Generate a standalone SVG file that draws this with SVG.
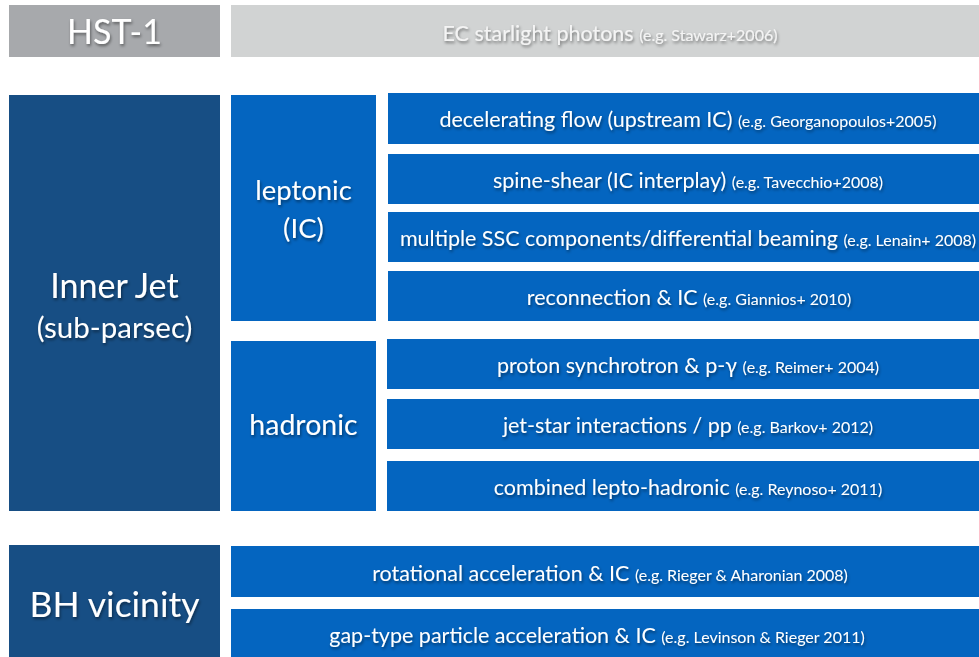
<svg xmlns="http://www.w3.org/2000/svg" width="979" height="657" viewBox="0 0 979 657">
<defs>
<filter id="sh" x="-10%" y="-30%" width="120%" height="160%">
<feDropShadow dx="1" dy="2" stdDeviation="1.5" flood-color="#000" flood-opacity="0.45"/>
</filter>
<style>
.gray{fill:#a7a9ac}
.lgray{fill:#d1d3d3}
.dark{fill:#174e84}
.mid{fill:#0465c0}
text{font-family:Lato,"Open Sans","DejaVu Sans",sans-serif;fill:#fff;text-anchor:middle;filter:url(#sh)}
.big{font-size:34px}
.cat{font-size:27.5px}
.row{font-size:21.5px}
.ref{font-size:16px}
.ec{fill:#f4f4f4}
</style>
</defs>
<rect width="979" height="657" fill="#fff"/>
<g id="hst1"><rect class="gray" x="9" y="5" width="211" height="52"/><text class="big" x="114.5" y="44" font-size="33">HST-1</text></g>
<g id="ec-starlight"><rect class="lgray" x="231" y="5" width="748" height="52"/><text class="row ec" x="610" y="41">EC starlight photons <tspan class="ref">(e.g. Stawarz+2006)</tspan></text></g>
<g id="inner-jet"><rect class="dark" x="9" y="95" width="211" height="416"/><text class="big" x="114.5" y="298">Inner Jet</text><text x="114.5" y="338" font-size="29.5">(sub-parsec)</text></g>
<g id="leptonic"><rect class="mid" x="231" y="95" width="145" height="226"/><text class="cat" x="303.5" y="200">leptonic</text><text class="cat" x="303.5" y="238">(IC)</text></g>
<g id="hadronic"><rect class="mid" x="231" y="341" width="145" height="170"/><text x="303.5" y="435" font-size="28.5">hadronic</text></g>
<g id="decelerating"><rect class="mid" x="388" y="93" width="591" height="51"/><text class="row" x="688" y="127">decelerating flow (upstream IC) <tspan class="ref">(e.g. Georganopoulos+2005)</tspan></text></g>
<g id="spine-shear"><rect class="mid" x="388" y="154" width="591" height="50"/><text class="row" x="688" y="188">spine-shear (IC interplay) <tspan class="ref">(e.g. Tavecchio+2008)</tspan></text></g>
<g id="multiple-ssc"><rect class="mid" x="388" y="212" width="591" height="50"/><text class="row" x="688" y="246">multiple SSC components/differential beaming <tspan class="ref">(e.g. Lenain+ 2008)</tspan></text></g>
<g id="reconnection"><rect class="mid" x="388" y="271" width="591" height="50"/><text class="row" x="689" y="305">reconnection &amp; IC <tspan class="ref">(e.g. Giannios+ 2010)</tspan></text></g>
<g id="proton-synchrotron"><rect class="mid" x="387" y="339" width="592" height="50"/><text class="row" x="688" y="373">proton synchrotron &amp; p-γ <tspan class="ref">(e.g. Reimer+ 2004)</tspan></text></g>
<g id="jet-star"><rect class="mid" x="387" y="399" width="592" height="50"/><text class="row" x="688" y="433">jet-star interactions / pp <tspan class="ref">(e.g. Barkov+ 2012)</tspan></text></g>
<g id="lepto-hadronic"><rect class="mid" x="387" y="461" width="592" height="50"/><text class="row" x="688" y="495">combined lepto-hadronic <tspan class="ref">(e.g. Reynoso+ 2011)</tspan></text></g>
<g id="bh-vicinity"><rect class="dark" x="9" y="545" width="211" height="112"/><text x="114.5" y="617" font-size="35.5">BH vicinity</text></g>
<g id="rotational"><rect class="mid" x="231" y="546" width="748" height="51"/><text class="row" x="610" y="581">rotational acceleration &amp; IC <tspan class="ref">(e.g. Rieger &amp; Aharonian 2008)</tspan></text></g>
<g id="gap-type"><rect class="mid" x="231" y="609" width="748" height="48"/><text class="row" x="597" y="643">gap-type particle acceleration &amp; IC <tspan class="ref">(e.g. Levinson &amp; Rieger 2011)</tspan></text></g>
<g id="connectors"></g>
</svg>
